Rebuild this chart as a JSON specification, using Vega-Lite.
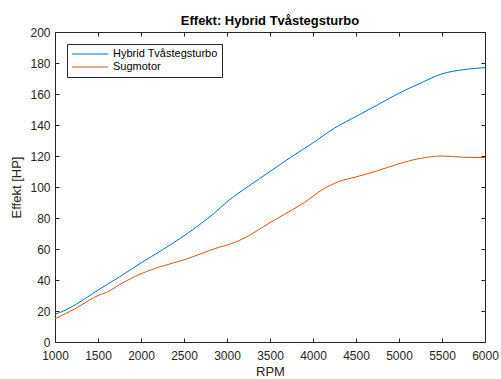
{
  "$schema": "https://vega.github.io/schema/vega-lite/v6.json",
  "autosize": "none",
  "width": 430,
  "height": 310,
  "padding": {"left": 55, "top": 32, "right": 16, "bottom": 37},
  "background": "white",
  "title": {
    "text": "Effekt: Hybrid Tvåstegsturbo",
    "font": "Liberation Sans",
    "fontSize": 13,
    "fontWeight": "bold",
    "color": "#000000",
    "offset": -2,
    "anchor": "middle"
  },
  "config": {
    "view": {"stroke": null},
    "font": "Liberation Sans",
    "axis": {
      "grid": false,
      "domainColor": "#262626",
      "domainWidth": 1,
      "tickColor": "#262626",
      "tickWidth": 1,
      "tickSize": -4,
      "labelFont": "Liberation Sans",
      "labelFontSize": 12,
      "labelColor": "#262626",
      "titleFont": "Liberation Sans",
      "titleFontSize": 13,
      "titleFontWeight": "normal",
      "titleColor": "#262626"
    }
  },
  "data": {
    "values": [
      {"rpm": 1000, "effekt": 18, "motor": "Hybrid Tvåstegsturbo"},
      {"rpm": 1100, "effekt": 20, "motor": "Hybrid Tvåstegsturbo"},
      {"rpm": 1250, "effekt": 24.5, "motor": "Hybrid Tvåstegsturbo"},
      {"rpm": 1500, "effekt": 33.5, "motor": "Hybrid Tvåstegsturbo"},
      {"rpm": 1750, "effekt": 42, "motor": "Hybrid Tvåstegsturbo"},
      {"rpm": 2000, "effekt": 51, "motor": "Hybrid Tvåstegsturbo"},
      {"rpm": 2250, "effekt": 59.5, "motor": "Hybrid Tvåstegsturbo"},
      {"rpm": 2500, "effekt": 68.5, "motor": "Hybrid Tvåstegsturbo"},
      {"rpm": 2700, "effekt": 76.5, "motor": "Hybrid Tvåstegsturbo"},
      {"rpm": 2850, "effekt": 83, "motor": "Hybrid Tvåstegsturbo"},
      {"rpm": 3000, "effekt": 90.5, "motor": "Hybrid Tvåstegsturbo"},
      {"rpm": 3250, "effekt": 100.5, "motor": "Hybrid Tvåstegsturbo"},
      {"rpm": 3500, "effekt": 110, "motor": "Hybrid Tvåstegsturbo"},
      {"rpm": 3750, "effekt": 119.5, "motor": "Hybrid Tvåstegsturbo"},
      {"rpm": 4000, "effekt": 128.5, "motor": "Hybrid Tvåstegsturbo"},
      {"rpm": 4250, "effekt": 138, "motor": "Hybrid Tvåstegsturbo"},
      {"rpm": 4500, "effekt": 145.5, "motor": "Hybrid Tvåstegsturbo"},
      {"rpm": 4750, "effekt": 153, "motor": "Hybrid Tvåstegsturbo"},
      {"rpm": 5000, "effekt": 160.5, "motor": "Hybrid Tvåstegsturbo"},
      {"rpm": 5250, "effekt": 167, "motor": "Hybrid Tvåstegsturbo"},
      {"rpm": 5500, "effekt": 173, "motor": "Hybrid Tvåstegsturbo"},
      {"rpm": 5750, "effekt": 175.7, "motor": "Hybrid Tvåstegsturbo"},
      {"rpm": 6000, "effekt": 177, "motor": "Hybrid Tvåstegsturbo"},
      {"rpm": 1000, "effekt": 15, "motor": "Sugmotor"},
      {"rpm": 1250, "effekt": 22, "motor": "Sugmotor"},
      {"rpm": 1400, "effekt": 27, "motor": "Sugmotor"},
      {"rpm": 1500, "effekt": 30, "motor": "Sugmotor"},
      {"rpm": 1600, "effekt": 32, "motor": "Sugmotor"},
      {"rpm": 1750, "effekt": 37, "motor": "Sugmotor"},
      {"rpm": 2000, "effekt": 44, "motor": "Sugmotor"},
      {"rpm": 2250, "effekt": 49, "motor": "Sugmotor"},
      {"rpm": 2500, "effekt": 53, "motor": "Sugmotor"},
      {"rpm": 2700, "effekt": 57, "motor": "Sugmotor"},
      {"rpm": 2900, "effekt": 61, "motor": "Sugmotor"},
      {"rpm": 3000, "effekt": 62.5, "motor": "Sugmotor"},
      {"rpm": 3200, "effekt": 67, "motor": "Sugmotor"},
      {"rpm": 3500, "effekt": 77, "motor": "Sugmotor"},
      {"rpm": 3750, "effekt": 85, "motor": "Sugmotor"},
      {"rpm": 3900, "effekt": 90, "motor": "Sugmotor"},
      {"rpm": 4100, "effekt": 98, "motor": "Sugmotor"},
      {"rpm": 4300, "effekt": 103.5, "motor": "Sugmotor"},
      {"rpm": 4500, "effekt": 106.5, "motor": "Sugmotor"},
      {"rpm": 4750, "effekt": 110.5, "motor": "Sugmotor"},
      {"rpm": 5000, "effekt": 115, "motor": "Sugmotor"},
      {"rpm": 5250, "effekt": 118.5, "motor": "Sugmotor"},
      {"rpm": 5500, "effekt": 120, "motor": "Sugmotor"},
      {"rpm": 5750, "effekt": 119.2, "motor": "Sugmotor"},
      {"rpm": 6000, "effekt": 119, "motor": "Sugmotor"}
    ]
  },
  "layer": [
    {
      "mark": {"type": "line", "strokeWidth": 1, "interpolate": "monotone"},
      "encoding": {
        "x": {
          "field": "rpm", "type": "quantitative",
          "scale": {"domain": [1000, 6000], "nice": false},
          "axis": {"orient": "bottom", "title": "RPM", "format": "d", "values": [1000,1500,2000,2500,3000,3500,4000,4500,5000,5500,6000], "labelPadding": 12, "titlePadding": 4, "labelFlush": false}
        },
        "y": {
          "field": "effekt", "type": "quantitative",
          "scale": {"domain": [0, 200], "nice": false},
          "axis": {"orient": "left", "title": "Effekt [HP]", "values": [0,20,40,60,80,100,120,140,160,180,200], "labelPadding": 9, "titlePadding": 6}
        },
        "color": {
          "field": "motor", "type": "nominal",
          "scale": {"domain": ["Hybrid Tvåstegsturbo", "Sugmotor"], "range": ["#0072BD", "#D95319"]},
          "legend": {
            "title": null,
            "orient": "none",
            "legendX": 12,
            "legendY": 12,
            "symbolType": "stroke",
            "symbolSize": 1300,
            "symbolStrokeWidth": 1,
            "clipHeight": 12,
            "labelFont": "Liberation Sans",
            "labelFontSize": 11,
            "labelColor": "#000000",
            "fillColor": "white",
            "strokeColor": "#262626",
            "padding": 4,
            "rowPadding": 1,
            "labelOffset": 4
          }
        }
      }
    },
    {
      "mark": {"type": "line", "opacity": 0},
      "encoding": {
        "x": {
          "field": "rpm", "type": "quantitative",
          "axis": {"orient": "top", "title": null, "labels": false, "values": [1000,1500,2000,2500,3000,3500,4000,4500,5000,5500,6000]}
        },
        "y": {
          "field": "effekt", "type": "quantitative",
          "axis": {"orient": "right", "title": null, "labels": false, "values": [0,20,40,60,80,100,120,140,160,180,200]}
        },
        "detail": {"field": "motor"}
      }
    }
  ],
  "resolve": {"axis": {"x": "independent", "y": "independent"}}
}
